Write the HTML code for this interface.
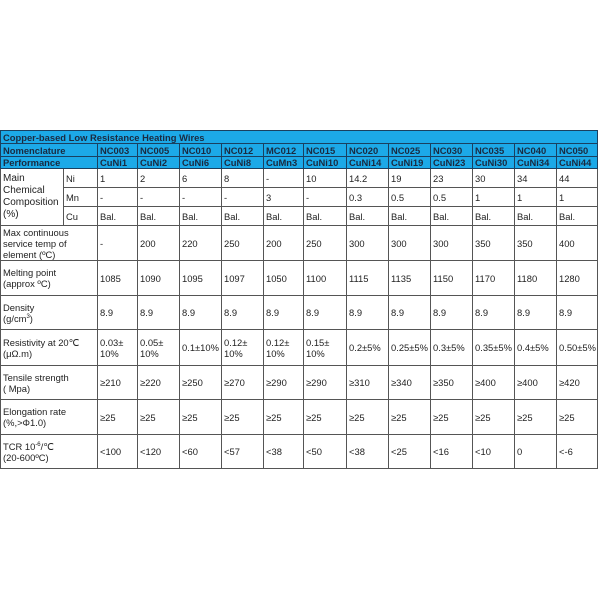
<!DOCTYPE html>
<html><head><style>
body{margin:0;background:#fff;width:600px;height:600px;position:relative;font-family:"Liberation Sans",Arial,sans-serif;}
table{position:absolute;left:0;top:130px;border-collapse:collapse;table-layout:fixed;font-size:9.4px;color:#222;}
td{border:1px solid #555;padding:0 0 0 2px;vertical-align:middle;overflow:hidden;white-space:nowrap;line-height:11px;}
tr.h td{background:#1ca9e8;font-weight:bold;color:#1a2a40;border-color:#1a4060;font-size:9.4px;}
sup{font-size:6px;line-height:0;}
</style></head><body>
<table>
<colgroup><col style="width:63px"><col style="width:34px"><col style="width:40px"><col style="width:42px"><col style="width:42px"><col style="width:42px"><col style="width:40px"><col style="width:43px"><col style="width:42px"><col style="width:42px"><col style="width:42px"><col style="width:42px"><col style="width:42px"><col style="width:41px"></colgroup>
<tr class="h" style="height:13px"><td colspan="14">Copper-based Low Resistance Heating Wires</td></tr>
<tr class="h" style="height:13px"><td colspan="2">Nomenclature</td><td>NC003</td><td>NC005</td><td>NC010</td><td>NC012</td><td>MC012</td><td>NC015</td><td>NC020</td><td>NC025</td><td>NC030</td><td>NC035</td><td>NC040</td><td>NC050</td></tr>
<tr class="h" style="height:12px"><td colspan="2">Performance</td><td>CuNi1</td><td>CuNi2</td><td>CuNi6</td><td>CuNi8</td><td>CuMn3</td><td>CuNi10</td><td>CuNi14</td><td>CuNi19</td><td>CuNi23</td><td>CuNi30</td><td>CuNi34</td><td>CuNi44</td></tr>
<tr style="height:19px"><td rowspan="3" style="font-size:10px;line-height:12px">Main<br>Chemical<br>Composition<br>(%)</td><td>Ni</td><td>1</td><td>2</td><td>6</td><td>8</td><td>-</td><td>10</td><td>14.2</td><td>19</td><td>23</td><td>30</td><td>34</td><td>44</td></tr>
<tr style="height:19px"><td>Mn</td><td>-</td><td>-</td><td>-</td><td>-</td><td>3</td><td>-</td><td>0.3</td><td>0.5</td><td>0.5</td><td>1</td><td>1</td><td>1</td></tr>
<tr style="height:19px"><td>Cu</td><td>Bal.</td><td>Bal.</td><td>Bal.</td><td>Bal.</td><td>Bal.</td><td>Bal.</td><td>Bal.</td><td>Bal.</td><td>Bal.</td><td>Bal.</td><td>Bal.</td><td>Bal.</td></tr>
<tr style="height:35px"><td colspan="2">Max continuous<br>service temp of<br>element (ºC)</td><td>-</td><td>200</td><td>220</td><td>250</td><td>200</td><td>250</td><td>300</td><td>300</td><td>300</td><td>350</td><td>350</td><td>400</td></tr>
<tr style="height:35px"><td colspan="2">Melting point<br>(approx ºC)</td><td>1085</td><td>1090</td><td>1095</td><td>1097</td><td>1050</td><td>1100</td><td>1115</td><td>1135</td><td>1150</td><td>1170</td><td>1180</td><td>1280</td></tr>
<tr style="height:34px"><td colspan="2">Density<br>(g/cm<sup>3</sup>)</td><td>8.9</td><td>8.9</td><td>8.9</td><td>8.9</td><td>8.9</td><td>8.9</td><td>8.9</td><td>8.9</td><td>8.9</td><td>8.9</td><td>8.9</td><td>8.9</td></tr>
<tr style="height:36px"><td colspan="2">Resistivity at 20℃<br>(μΩ.m)</td><td>0.03±<br>10%</td><td>0.05±<br>10%</td><td>0.1±10%</td><td>0.12±<br>10%</td><td>0.12±<br>10%</td><td>0.15±<br>10%</td><td>0.2±5%</td><td>0.25±5%</td><td>0.3±5%</td><td>0.35±5%</td><td>0.4±5%</td><td>0.50±5%</td></tr>
<tr style="height:34px"><td colspan="2">Tensile strength<br>( Mpa)</td><td>≥210</td><td>≥220</td><td>≥250</td><td>≥270</td><td>≥290</td><td>≥290</td><td>≥310</td><td>≥340</td><td>≥350</td><td>≥400</td><td>≥400</td><td>≥420</td></tr>
<tr style="height:35px"><td colspan="2">Elongation rate<br>(%,&gt;Φ1.0)</td><td>≥25</td><td>≥25</td><td>≥25</td><td>≥25</td><td>≥25</td><td>≥25</td><td>≥25</td><td>≥25</td><td>≥25</td><td>≥25</td><td>≥25</td><td>≥25</td></tr>
<tr style="height:34px"><td colspan="2">TCR 10<sup>-6</sup>/℃<br>(20-600ºC)</td><td>&lt;100</td><td>&lt;120</td><td>&lt;60</td><td>&lt;57</td><td>&lt;38</td><td>&lt;50</td><td>&lt;38</td><td>&lt;25</td><td>&lt;16</td><td>&lt;10</td><td>0</td><td>&lt;-6</td></tr>
</table>
</body></html>
